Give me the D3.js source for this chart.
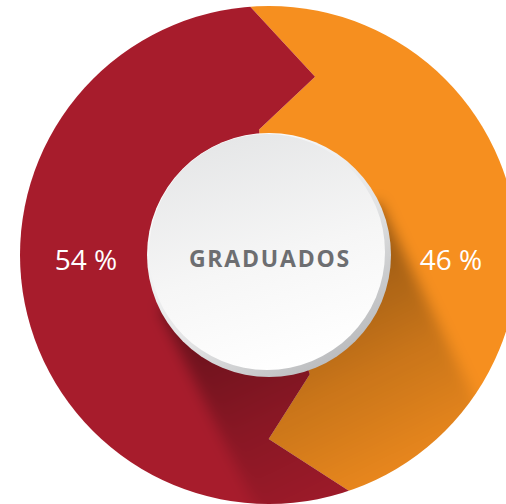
<!DOCTYPE html>
<html>
<head>
<meta charset="utf-8">
<script src="https://cdn.jsdelivr.net/npm/d3@7"></script>
<style>
  html, body { margin: 0; padding: 0; background: #ffffff; }
  svg { display: block; }
</style>
</head>
<body>
<svg id="chart" width="506" height="504"></svg>
<script>
// data
const labels = ["Graduadas", "Graduados"];
const values = [46, 54];
const valueText = ["46 %", "54 %"];
const colors = ["#f68f1f", "#a71c2c"];
const centerLabel = "GRADUADOS";

const cx = 269, cy = 255;
const R = 249;        // ring outer radius
const Rc = 122;       // centre disc radius
const deg = Math.PI / 180;

const svg = d3.select("#chart");
const defs = svg.append("defs");

defs.append("clipPath").attr("id", "ringClip")
  .append("circle").attr("cx", 0).attr("cy", 0).attr("r", R);

const g = svg.append("g").attr("transform", `translate(${cx},${cy})`);
const ring = g.append("g").attr("clip-path", "url(#ringClip)");

const pie = d3.pie().sort(null).value(d => d)
  .startAngle(-4.5 * deg).endAngle(355.5 * deg);
const arcs = pie(values);

// polar point, d3 convention (0 = up, clockwise)
const pt = (r, a) => [r * Math.sin(a), -r * Math.cos(a)];
const tipShift = 19 * deg;

// slice with chevron-shaped edges (tip pointing clockwise)
function sliceShape(d) {
  const a0 = d.startAngle, a1 = d.endAngle;
  const far = R * 1.6;
  const pts = [[0, 0], pt(126, a0), pt(184, a0 + tipShift), pt(R + 1, a0), pt(far, a0)];
  const n = Math.ceil((a1 - a0) / (8 * deg));
  for (let i = 1; i < n; i++) pts.push(pt(far, a0 + (a1 - a0) * i / n));
  pts.push(pt(far, a1), pt(R + 1, a1), pt(184, a1 + tipShift), pt(126, a1));
  return "M" + pts.map(p => p.join(",")).join("L") + "Z";
}

ring.selectAll("path.slice")
  .data(arcs)
  .join("path")
  .attr("class", "slice")
  .attr("d", sliceShape)
  .attr("fill", (d, i) => colors[i]);

// long shadow from the centre disc
const phi = 64 * deg;
const dir = [Math.cos(phi), Math.sin(phi)];
const nrm = [-Math.sin(phi), Math.cos(phi)];
const L = 330;
const sg = defs.append("linearGradient").attr("id", "shadowGrad")
  .attr("gradientUnits", "userSpaceOnUse")
  .attr("x1", 0).attr("y1", 0)
  .attr("x2", dir[0] * 300).attr("y2", dir[1] * 300);
sg.append("stop").attr("offset", 0).attr("stop-color", "#000").attr("stop-opacity", 0.42);
sg.append("stop").attr("offset", 0.5).attr("stop-color", "#000").attr("stop-opacity", 0.18);
sg.append("stop").attr("offset", 1).attr("stop-color", "#000").attr("stop-opacity", 0);

defs.append("filter").attr("id", "soft")
  .attr("x", "-20%").attr("y", "-20%").attr("width", "140%").attr("height", "140%")
  .append("feGaussianBlur").attr("stdDeviation", 7);

const sp = [
  [nrm[0] * Rc, nrm[1] * Rc],
  [nrm[0] * Rc + dir[0] * L, nrm[1] * Rc + dir[1] * L],
  [-nrm[0] * Rc + dir[0] * L, -nrm[1] * Rc + dir[1] * L],
  [-nrm[0] * Rc, -nrm[1] * Rc]
];
ring.append("path")
  .attr("d", "M" + sp.map(p => p.join(",")).join("L") + "Z")
  .attr("fill", "url(#shadowGrad)")
  .attr("filter", "url(#soft)");

// value labels
const labelPos = [pt(182, 90 * deg), pt(183, 270 * deg)];
g.selectAll("text.value")
  .data(arcs)
  .join("text")
  .attr("class", "value")
  .attr("x", (d, i) => labelPos[i][0])
  .attr("y", (d, i) => labelPos[i][1] + 15)
  .attr("text-anchor", "middle")
  .attr("font-family", "'Open Sans', sans-serif")
  .attr("font-size", 28)
  .attr("fill", "#ffffff")
  .text((d, i) => valueText[i]);

// centre disc
const rim = defs.append("linearGradient").attr("id", "rimGrad")
  .attr("x1", "20%").attr("y1", "10%").attr("x2", "80%").attr("y2", "90%");
rim.append("stop").attr("offset", 0).attr("stop-color", "#ffffff");
rim.append("stop").attr("offset", 0.6).attr("stop-color", "#e2e3e4");
rim.append("stop").attr("offset", 1).attr("stop-color", "#bcbdbf");

const face = defs.append("linearGradient").attr("id", "faceGrad")
  .attr("x1", "30%").attr("y1", "0%").attr("x2", "60%").attr("y2", "100%");
face.append("stop").attr("offset", 0).attr("stop-color", "#e5e6e7");
face.append("stop").attr("offset", 0.55).attr("stop-color", "#f6f6f6");
face.append("stop").attr("offset", 1).attr("stop-color", "#ffffff");

g.append("circle").attr("r", Rc).attr("fill", "url(#rimGrad)");
g.append("circle").attr("cx", -2).attr("cy", -3).attr("r", Rc - 4).attr("fill", "url(#faceGrad)");

g.append("text")
  .attr("x", 1)
  .attr("y", 12)
  .attr("text-anchor", "middle")
  .attr("font-family", "'Open Sans', sans-serif")
  .attr("font-weight", 700)
  .attr("font-size", 23)
  .attr("letter-spacing", 1.8)
  .attr("fill", "#6d6e71")
  .text(centerLabel);
</script>
</body>
</html>
